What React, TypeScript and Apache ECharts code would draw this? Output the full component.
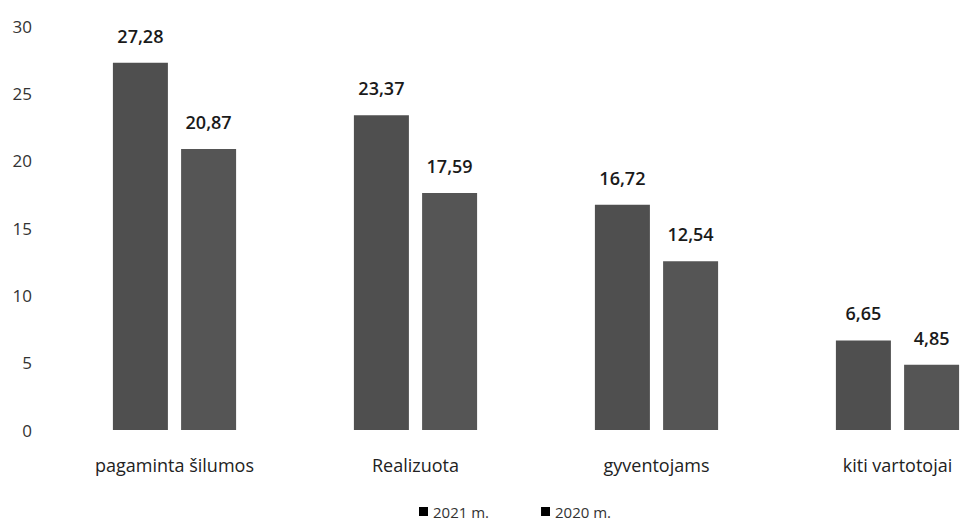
import React, { useEffect, useRef } from "react";
import * as echarts from "echarts";

const categories = ["pagaminta šilumos", "Realizuota", "gyventojams", "kiti vartotojai"];
const series2021 = [27.28, 23.37, 16.72, 6.65];
const series2020 = [20.87, 17.59, 12.54, 4.85];
const seriesNames = ["2021 m.", "2020 m."];

const FONT = "'Open Sans', 'Noto Sans', sans-serif";

export default function App() {
  const ref = useRef<HTMLDivElement>(null);
  useEffect(() => {
    if (!ref.current) return;
    const chart = echarts.init(ref.current, undefined, { renderer: "svg" });
    const label = {
      show: true,
      position: "top" as const,
      distance: 18,
      fontSize: 18,
      fontFamily: FONT,
      color: "#1a1a1a",
      fontWeight: 600 as const,
      formatter: (p: any) => p.value.toFixed(2).replace(".", ","),
    };
    chart.setOption({
      animation: false,
      backgroundColor: "#ffffff",
      grid: { left: 54, top: 26, width: 964, height: 404 },
      legend: {
        bottom: 4,
        left: 414,
        itemWidth: 9,
        itemHeight: 9,
        itemGap: 52,
        itemStyle: { color: undefined },
        icon: "rect",
        textStyle: { fontSize: 15, fontFamily: FONT, color: "#333" },
        data: seriesNames,
      },
      xAxis: {
        type: "category",
        data: categories,
        axisLine: { show: false },
        axisTick: { show: false },
        axisLabel: { fontSize: 18, fontFamily: FONT, color: "#222", margin: 26 },
      },
      yAxis: {
        type: "value",
        min: 0,
        max: 30,
        interval: 5,
        axisLine: { show: false },
        axisTick: { show: false },
        splitLine: { show: false },
        axisLabel: { fontSize: 17, fontFamily: FONT, color: "#333", margin: 22 },
      },
      series: [
        {
          name: seriesNames[0],
          type: "bar",
          data: series2021,
          barWidth: 55,
          barGap: "24%",
          itemStyle: { color: "#4f4f4f" },
          label,
        },
        {
          name: seriesNames[1],
          type: "bar",
          data: series2020,
          barWidth: 55,
          itemStyle: { color: "#555555" },
          label,
        },
      ],
    });
    return () => chart.dispose();
  }, []);
  return (
    <div
      style={{
        position: "absolute",
        left: 0,
        top: 0,
        width: 963,
        height: 528,
        overflow: "hidden",
      }}
    >
      <div ref={ref} style={{ width: 1030, height: 528 }} />
    </div>
  );
}
